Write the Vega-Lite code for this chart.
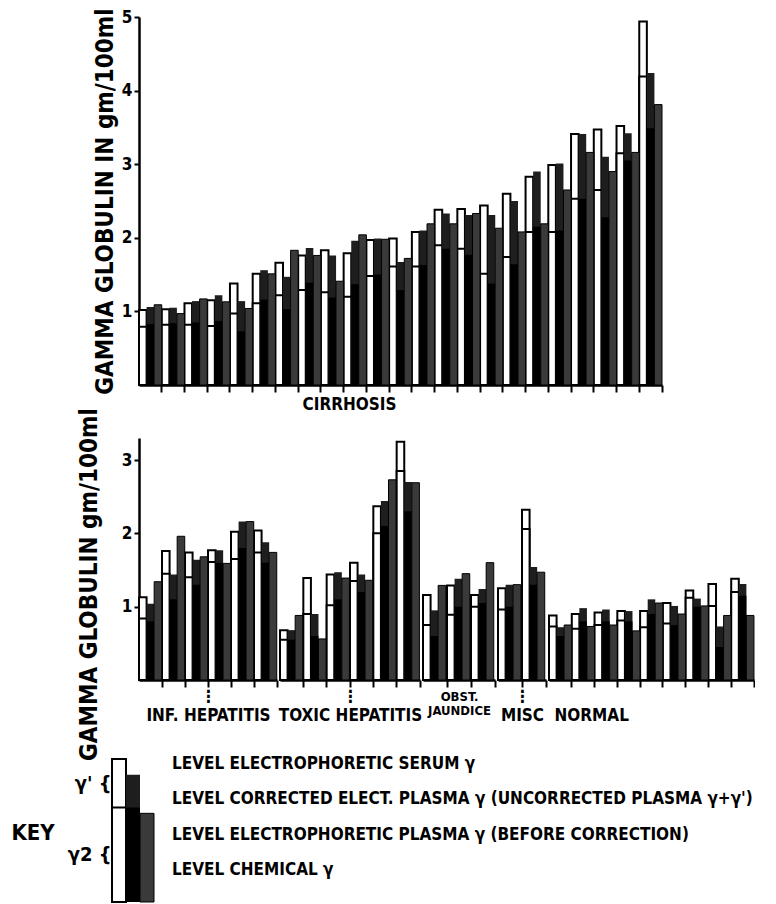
{
"$schema": "https://vega.github.io/schema/vega-lite/v6.json",
"padding": {"left": 10, "top": 7, "right": 0, "bottom": 0},
"background": "white",
"config": {
  "view": {"stroke": null},
  "font": "DejaVu Sans Condensed, Liberation Sans Narrow, DejaVu Sans, sans-serif",
  "axis": {"domainColor": "black", "tickColor": "black", "labelColor": "black", "titleColor": "black", "grid": false,
           "labelFont": "DejaVu Sans Condensed, Liberation Sans Narrow, DejaVu Sans, sans-serif",
           "titleFont": "DejaVu Sans Condensed, Liberation Sans Narrow, DejaVu Sans, sans-serif",
           "labelFontWeight": "bold", "titleFontWeight": "bold"}
},
"datasets": {
  "cirr": [
    {"pt":1,"bar":"serum","total":1.02,"inner":0.79},{"pt":1,"bar":"plasma","total":1.06,"inner":0.83},{"pt":1,"bar":"chemical","total":1.09},
    {"pt":2,"bar":"serum","total":1.03,"inner":0.82},{"pt":2,"bar":"plasma","total":1.05,"inner":0.84},{"pt":2,"bar":"chemical","total":0.97},
    {"pt":3,"bar":"serum","total":1.11,"inner":0.82},{"pt":3,"bar":"plasma","total":1.14,"inner":0.85},{"pt":3,"bar":"chemical","total":1.17},
    {"pt":4,"bar":"serum","total":1.15,"inner":0.80},{"pt":4,"bar":"plasma","total":1.22,"inner":0.87},{"pt":4,"bar":"chemical","total":1.13},
    {"pt":5,"bar":"serum","total":1.38,"inner":0.97},{"pt":5,"bar":"plasma","total":1.14,"inner":0.73},{"pt":5,"bar":"chemical","total":1.04},
    {"pt":6,"bar":"serum","total":1.51,"inner":1.11},{"pt":6,"bar":"plasma","total":1.56,"inner":1.16},{"pt":6,"bar":"chemical","total":1.51},
    {"pt":7,"bar":"serum","total":1.66,"inner":1.22},{"pt":7,"bar":"plasma","total":1.47,"inner":1.03},{"pt":7,"bar":"chemical","total":1.83},
    {"pt":8,"bar":"serum","total":1.76,"inner":1.29},{"pt":8,"bar":"plasma","total":1.86,"inner":1.39},{"pt":8,"bar":"chemical","total":1.76},
    {"pt":9,"bar":"serum","total":1.83,"inner":1.26},{"pt":9,"bar":"plasma","total":1.76,"inner":1.19},{"pt":9,"bar":"chemical","total":1.41},
    {"pt":10,"bar":"serum","total":1.79,"inner":1.20},{"pt":10,"bar":"plasma","total":1.96,"inner":1.37},{"pt":10,"bar":"chemical","total":2.04},
    {"pt":11,"bar":"serum","total":1.97,"inner":1.48},{"pt":11,"bar":"plasma","total":1.99,"inner":1.50},{"pt":11,"bar":"chemical","total":1.98},
    {"pt":12,"bar":"serum","total":1.99,"inner":1.61},{"pt":12,"bar":"plasma","total":1.67,"inner":1.29},{"pt":12,"bar":"chemical","total":1.72},
    {"pt":13,"bar":"serum","total":2.08,"inner":1.61},{"pt":13,"bar":"plasma","total":2.10,"inner":1.63},{"pt":13,"bar":"chemical","total":2.19},
    {"pt":14,"bar":"serum","total":2.38,"inner":1.90},{"pt":14,"bar":"plasma","total":2.33,"inner":1.85},{"pt":14,"bar":"chemical","total":2.19},
    {"pt":15,"bar":"serum","total":2.39,"inner":1.85},{"pt":15,"bar":"plasma","total":2.31,"inner":1.77},{"pt":15,"bar":"chemical","total":2.33},
    {"pt":16,"bar":"serum","total":2.44,"inner":1.51},{"pt":16,"bar":"plasma","total":2.31,"inner":1.38},{"pt":16,"bar":"chemical","total":2.13},
    {"pt":17,"bar":"serum","total":2.60,"inner":1.74},{"pt":17,"bar":"plasma","total":2.50,"inner":1.64},{"pt":17,"bar":"chemical","total":2.08},
    {"pt":18,"bar":"serum","total":2.83,"inner":2.08},{"pt":18,"bar":"plasma","total":2.90,"inner":2.15},{"pt":18,"bar":"chemical","total":2.19},
    {"pt":19,"bar":"serum","total":2.99,"inner":2.08},{"pt":19,"bar":"plasma","total":3.01,"inner":2.10},{"pt":19,"bar":"chemical","total":2.65},
    {"pt":20,"bar":"serum","total":3.41,"inner":2.53},{"pt":20,"bar":"plasma","total":3.41,"inner":2.53},{"pt":20,"bar":"chemical","total":3.16},
    {"pt":21,"bar":"serum","total":3.47,"inner":2.65},{"pt":21,"bar":"plasma","total":3.10,"inner":2.28},{"pt":21,"bar":"chemical","total":2.90},
    {"pt":22,"bar":"serum","total":3.52,"inner":3.15},{"pt":22,"bar":"plasma","total":3.42,"inner":3.05},{"pt":22,"bar":"chemical","total":3.16},
    {"pt":23,"bar":"serum","total":4.94,"inner":4.19},{"pt":23,"bar":"plasma","total":4.24,"inner":3.49},{"pt":23,"bar":"chemical","total":3.81}
  ],
  "other": [
    {"grp":"INF","pt":1,"bar":"serum","total":1.13,"inner":0.84},{"grp":"INF","pt":1,"bar":"plasma","total":1.04,"inner":0.80},{"grp":"INF","pt":1,"bar":"chemical","total":1.34},
    {"grp":"INF","pt":2,"bar":"serum","total":1.76,"inner":1.45},{"grp":"INF","pt":2,"bar":"plasma","total":1.44,"inner":1.10},{"grp":"INF","pt":2,"bar":"chemical","total":1.96},
    {"grp":"INF","pt":3,"bar":"serum","total":1.74,"inner":1.40},{"grp":"INF","pt":3,"bar":"plasma","total":1.64,"inner":1.30},{"grp":"INF","pt":3,"bar":"chemical","total":1.68},
    {"grp":"INF","pt":4,"bar":"serum","total":1.77,"inner":1.61},{"grp":"INF","pt":4,"bar":"plasma","total":1.77,"inner":1.60},{"grp":"INF","pt":4,"bar":"chemical","total":1.59},
    {"grp":"INF","pt":5,"bar":"serum","total":2.02,"inner":1.65},{"grp":"INF","pt":5,"bar":"plasma","total":2.16,"inner":1.80},{"grp":"INF","pt":5,"bar":"chemical","total":2.16},
    {"grp":"INF","pt":6,"bar":"serum","total":2.04,"inner":1.74},{"grp":"INF","pt":6,"bar":"plasma","total":1.88,"inner":1.60},{"grp":"INF","pt":6,"bar":"chemical","total":1.74},
    {"grp":"TOX","pt":1,"bar":"serum","total":0.68,"inner":0.55},{"grp":"TOX","pt":1,"bar":"plasma","total":0.68,"inner":0.55},{"grp":"TOX","pt":1,"bar":"chemical","total":0.88},
    {"grp":"TOX","pt":2,"bar":"serum","total":1.39,"inner":0.90},{"grp":"TOX","pt":2,"bar":"plasma","total":0.90,"inner":0.60},{"grp":"TOX","pt":2,"bar":"chemical","total":0.56},
    {"grp":"TOX","pt":3,"bar":"serum","total":1.44,"inner":1.02},{"grp":"TOX","pt":3,"bar":"plasma","total":1.47,"inner":1.10},{"grp":"TOX","pt":3,"bar":"chemical","total":1.39},
    {"grp":"TOX","pt":4,"bar":"serum","total":1.60,"inner":1.35},{"grp":"TOX","pt":4,"bar":"plasma","total":1.44,"inner":1.20},{"grp":"TOX","pt":4,"bar":"chemical","total":1.36},
    {"grp":"TOX","pt":5,"bar":"serum","total":2.37,"inner":2.00},{"grp":"TOX","pt":5,"bar":"plasma","total":2.44,"inner":2.10},{"grp":"TOX","pt":5,"bar":"chemical","total":2.73},
    {"grp":"TOX","pt":6,"bar":"serum","total":3.25,"inner":2.85},{"grp":"TOX","pt":6,"bar":"plasma","total":2.70,"inner":2.30},{"grp":"TOX","pt":6,"bar":"chemical","total":2.69},
    {"grp":"OBST","pt":1,"bar":"serum","total":1.16,"inner":0.75},{"grp":"OBST","pt":1,"bar":"plasma","total":0.95,"inner":0.60},{"grp":"OBST","pt":1,"bar":"chemical","total":1.29},
    {"grp":"OBST","pt":2,"bar":"serum","total":1.29,"inner":0.89},{"grp":"OBST","pt":2,"bar":"plasma","total":1.38,"inner":1.00},{"grp":"OBST","pt":2,"bar":"chemical","total":1.45},
    {"grp":"OBST","pt":3,"bar":"serum","total":1.16,"inner":1.00},{"grp":"OBST","pt":3,"bar":"plasma","total":1.24,"inner":1.05},{"grp":"OBST","pt":3,"bar":"chemical","total":1.60},
    {"grp":"MISC","pt":1,"bar":"serum","total":1.25,"inner":0.96},{"grp":"MISC","pt":1,"bar":"plasma","total":1.30,"inner":1.00},{"grp":"MISC","pt":1,"bar":"chemical","total":1.30},
    {"grp":"MISC","pt":2,"bar":"serum","total":2.32,"inner":2.06},{"grp":"MISC","pt":2,"bar":"plasma","total":1.54,"inner":1.30},{"grp":"MISC","pt":2,"bar":"chemical","total":1.47},
    {"grp":"NORM","pt":1,"bar":"serum","total":0.88,"inner":0.73},{"grp":"NORM","pt":1,"bar":"plasma","total":0.72,"inner":0.60},{"grp":"NORM","pt":1,"bar":"chemical","total":0.75},
    {"grp":"NORM","pt":2,"bar":"serum","total":0.90,"inner":0.70},{"grp":"NORM","pt":2,"bar":"plasma","total":0.98,"inner":0.80},{"grp":"NORM","pt":2,"bar":"chemical","total":0.73},
    {"grp":"NORM","pt":3,"bar":"serum","total":0.92,"inner":0.75},{"grp":"NORM","pt":3,"bar":"plasma","total":0.96,"inner":0.80},{"grp":"NORM","pt":3,"bar":"chemical","total":0.75},
    {"grp":"NORM","pt":4,"bar":"serum","total":0.94,"inner":0.81},{"grp":"NORM","pt":4,"bar":"plasma","total":0.94,"inner":0.80},{"grp":"NORM","pt":4,"bar":"chemical","total":0.67},
    {"grp":"NORM","pt":5,"bar":"serum","total":0.94,"inner":0.72},{"grp":"NORM","pt":5,"bar":"plasma","total":1.10,"inner":0.90},{"grp":"NORM","pt":5,"bar":"chemical","total":1.05},
    {"grp":"NORM","pt":6,"bar":"serum","total":1.05,"inner":0.77},{"grp":"NORM","pt":6,"bar":"plasma","total":1.01,"inner":0.75},{"grp":"NORM","pt":6,"bar":"chemical","total":0.90},
    {"grp":"NORM","pt":7,"bar":"serum","total":1.22,"inner":1.12},{"grp":"NORM","pt":7,"bar":"plasma","total":1.11,"inner":1.00},{"grp":"NORM","pt":7,"bar":"chemical","total":1.01},
    {"grp":"NORM","pt":8,"bar":"serum","total":1.31,"inner":1.01},{"grp":"NORM","pt":8,"bar":"plasma","total":0.73,"inner":0.45},{"grp":"NORM","pt":8,"bar":"chemical","total":0.88},
    {"grp":"NORM","pt":9,"bar":"serum","total":1.38,"inner":1.20},{"grp":"NORM","pt":9,"bar":"plasma","total":1.31,"inner":1.15},{"grp":"NORM","pt":9,"bar":"chemical","total":0.88}
  ],
  "keybars": [
    {"bar":"serum","total":1.0,"inner":0.66},{"bar":"plasma","total":0.89,"inner":0.66},{"bar":"chemical","total":0.62}
  ],
  "keylabels": [
    {"order":1,"label":"LEVEL ELECTROPHORETIC SERUM γ"},
    {"order":2,"label":"LEVEL CORRECTED ELECT. PLASMA γ (UNCORRECTED PLASMA γ+γ')"},
    {"order":3,"label":"LEVEL ELECTROPHORETIC PLASMA γ (BEFORE CORRECTION)"},
    {"order":4,"label":"LEVEL CHEMICAL γ"}
  ]
},
"bounds": "flush",
"spacing": 53,
"vconcat": [
  {
    "width": 523, "height": 368,
    "data": {"name": "cirr"},
    "encoding": {
      "x": {"field": "pt", "type": "ordinal", "scale": {"paddingInner": 0, "paddingOuter": 0},
            "axis": {"title": "CIRRHOSIS", "labels": false, "bandPosition": 1, "tickSize": 7, "tickWidth": 2, "domainWidth": 2.5, "titleX": 210, "titleFontSize": 17, "titlePadding": 3}},
      "xOffset": {"field": "bar", "type": "nominal", "scale": {"domain": ["serum", "plasma", "chemical"], "paddingInner": 0, "paddingOuter": 0}}
    },
    "layer": [
      {"transform": [{"filter": "datum.bar == 'serum'"}], "mark": {"type": "bar", "fill": "white", "stroke": "black", "strokeWidth": 2},
       "encoding": {"y": {"field": "total", "type": "quantitative", "scale": {"domain": [0, 5], "nice": false},
         "axis": {"values": [1, 2, 3, 4, 5], "format": "d", "title": "GAMMA GLOBULIN IN gm/100ml", "titleFontSize": 24, "titlePadding": 4, "labelFontSize": 17, "labelPadding": 2, "tickSize": 5, "tickWidth": 2, "domainWidth": 2.5}}}},
      {"transform": [{"filter": "datum.bar == 'serum'"}], "mark": {"type": "bar", "fill": "white", "stroke": "black", "strokeWidth": 2},
       "encoding": {"y": {"field": "inner", "type": "quantitative", "scale": {"domain": [0, 5], "nice": false}}}},
      {"transform": [{"filter": "datum.bar == 'plasma'"}], "mark": {"type": "bar", "fill": "#1e1e1e"},
       "encoding": {"y": {"field": "total", "type": "quantitative", "scale": {"domain": [0, 5], "nice": false}}}},
      {"transform": [{"filter": "datum.bar == 'plasma'"}], "mark": {"type": "bar", "fill": "black"},
       "encoding": {"y": {"field": "inner", "type": "quantitative", "scale": {"domain": [0, 5], "nice": false}}}},
      {"transform": [{"filter": "datum.bar == 'chemical'"}], "mark": {"type": "bar", "fill": "#3a3a3a", "stroke": "black", "strokeWidth": 1},
       "encoding": {"y": {"field": "total", "type": "quantitative", "scale": {"domain": [0, 5], "nice": false}}}}
    ]
  },
  {
    "bounds": "flush",
    "spacing": 3,
    "hconcat": [
      {
        "width": 138, "height": 242,
        "data": {"name": "other"},
        "transform": [{"filter": "datum.grp == 'INF'"}],
        "encoding": {
          "x": {"field": "pt", "type": "ordinal", "scale": {"paddingInner": 0, "paddingOuter": 0},
                "axis": {"title": ["⋮", "INF. HEPATITIS"], "titleLineHeight": 19, "labels": false, "bandPosition": 1, "tickSize": 7, "tickWidth": 2, "domainWidth": 2.5, "titleFontSize": 17, "titlePadding": 0}},
          "xOffset": {"field": "bar", "type": "nominal", "scale": {"domain": ["serum", "plasma", "chemical"], "paddingInner": 0, "paddingOuter": 0}}
        },
        "layer": [
          {"transform": [{"filter": "datum.bar == 'serum'"}], "mark": {"type": "bar", "fill": "white", "stroke": "black", "strokeWidth": 2},
           "encoding": {"y": {"field": "total", "type": "quantitative", "scale": {"domain": [0, 3.3], "nice": false},
             "axis": {"values": [1, 2, 3], "format": "d", "title": "GAMMA GLOBULIN gm/100ml", "titleFontSize": 24, "titlePadding": 20, "titleY": 146, "labelFontSize": 17, "labelPadding": 2, "tickSize": 5, "tickWidth": 2, "domainWidth": 2.5}}}},
          {"transform": [{"filter": "datum.bar == 'serum'"}], "mark": {"type": "bar", "fill": "white", "stroke": "black", "strokeWidth": 2},
           "encoding": {"y": {"field": "inner", "type": "quantitative", "scale": {"domain": [0, 3.3], "nice": false}}}},
          {"transform": [{"filter": "datum.bar == 'plasma'"}], "mark": {"type": "bar", "fill": "#1e1e1e"},
           "encoding": {"y": {"field": "total", "type": "quantitative", "scale": {"domain": [0, 3.3], "nice": false}}}},
          {"transform": [{"filter": "datum.bar == 'plasma'"}], "mark": {"type": "bar", "fill": "black"},
           "encoding": {"y": {"field": "inner", "type": "quantitative", "scale": {"domain": [0, 3.3], "nice": false}}}},
          {"transform": [{"filter": "datum.bar == 'chemical'"}], "mark": {"type": "bar", "fill": "#3a3a3a", "stroke": "black", "strokeWidth": 1},
           "encoding": {"y": {"field": "total", "type": "quantitative", "scale": {"domain": [0, 3.3], "nice": false}}}}
        ]
      },
      {
        "width": 140, "height": 242,
        "data": {"name": "other"},
        "transform": [{"filter": "datum.grp == 'TOX'"}],
        "encoding": {
          "x": {"field": "pt", "type": "ordinal", "scale": {"paddingInner": 0, "paddingOuter": 0},
                "axis": {"title": ["⋮", "TOXIC HEPATITIS"], "titleLineHeight": 19, "labels": false, "bandPosition": 1, "tickSize": 7, "tickWidth": 2, "domainWidth": 2.5, "titleFontSize": 17, "titlePadding": 0}},
          "xOffset": {"field": "bar", "type": "nominal", "scale": {"domain": ["serum", "plasma", "chemical"], "paddingInner": 0, "paddingOuter": 0}}
        },
        "layer": [
          {"transform": [{"filter": "datum.bar == 'serum'"}], "mark": {"type": "bar", "fill": "white", "stroke": "black", "strokeWidth": 2},
           "encoding": {"y": {"field": "total", "type": "quantitative", "scale": {"domain": [0, 3.3], "nice": false}, "axis": null}}},
          {"transform": [{"filter": "datum.bar == 'serum'"}], "mark": {"type": "bar", "fill": "white", "stroke": "black", "strokeWidth": 2},
           "encoding": {"y": {"field": "inner", "type": "quantitative", "scale": {"domain": [0, 3.3], "nice": false}, "axis": null}}},
          {"transform": [{"filter": "datum.bar == 'plasma'"}], "mark": {"type": "bar", "fill": "#1e1e1e"},
           "encoding": {"y": {"field": "total", "type": "quantitative", "scale": {"domain": [0, 3.3], "nice": false}, "axis": null}}},
          {"transform": [{"filter": "datum.bar == 'plasma'"}], "mark": {"type": "bar", "fill": "black"},
           "encoding": {"y": {"field": "inner", "type": "quantitative", "scale": {"domain": [0, 3.3], "nice": false}, "axis": null}}},
          {"transform": [{"filter": "datum.bar == 'chemical'"}], "mark": {"type": "bar", "fill": "#3a3a3a", "stroke": "black", "strokeWidth": 1},
           "encoding": {"y": {"field": "total", "type": "quantitative", "scale": {"domain": [0, 3.3], "nice": false}, "axis": null}}}
        ]
      },
      {
        "width": 72, "height": 242,
        "data": {"name": "other"},
        "transform": [{"filter": "datum.grp == 'OBST'"}],
        "encoding": {
          "x": {"field": "pt", "type": "ordinal", "scale": {"paddingInner": 0, "paddingOuter": 0},
                "axis": {"title": ["OBST.", "JAUNDICE"], "labels": false, "bandPosition": 1, "tickSize": 7, "tickWidth": 2, "domainWidth": 2.5, "titleFontSize": 13, "titleLineHeight": 14, "titlePadding": 2}},
          "xOffset": {"field": "bar", "type": "nominal", "scale": {"domain": ["serum", "plasma", "chemical"], "paddingInner": 0, "paddingOuter": 0}}
        },
        "layer": [
          {"transform": [{"filter": "datum.bar == 'serum'"}], "mark": {"type": "bar", "fill": "white", "stroke": "black", "strokeWidth": 2},
           "encoding": {"y": {"field": "total", "type": "quantitative", "scale": {"domain": [0, 3.3], "nice": false}, "axis": null}}},
          {"transform": [{"filter": "datum.bar == 'serum'"}], "mark": {"type": "bar", "fill": "white", "stroke": "black", "strokeWidth": 2},
           "encoding": {"y": {"field": "inner", "type": "quantitative", "scale": {"domain": [0, 3.3], "nice": false}, "axis": null}}},
          {"transform": [{"filter": "datum.bar == 'plasma'"}], "mark": {"type": "bar", "fill": "#1e1e1e"},
           "encoding": {"y": {"field": "total", "type": "quantitative", "scale": {"domain": [0, 3.3], "nice": false}, "axis": null}}},
          {"transform": [{"filter": "datum.bar == 'plasma'"}], "mark": {"type": "bar", "fill": "black"},
           "encoding": {"y": {"field": "inner", "type": "quantitative", "scale": {"domain": [0, 3.3], "nice": false}, "axis": null}}},
          {"transform": [{"filter": "datum.bar == 'chemical'"}], "mark": {"type": "bar", "fill": "#3a3a3a", "stroke": "black", "strokeWidth": 1},
           "encoding": {"y": {"field": "total", "type": "quantitative", "scale": {"domain": [0, 3.3], "nice": false}, "axis": null}}}
        ]
      },
      {
        "width": 48, "height": 242,
        "data": {"name": "other"},
        "transform": [{"filter": "datum.grp == 'MISC'"}],
        "encoding": {
          "x": {"field": "pt", "type": "ordinal", "scale": {"paddingInner": 0, "paddingOuter": 0},
                "axis": {"title": ["⋮", "MISC"], "titleLineHeight": 19, "labels": false, "bandPosition": 1, "tickSize": 7, "tickWidth": 2, "domainWidth": 2.5, "titleFontSize": 17, "titlePadding": 0}},
          "xOffset": {"field": "bar", "type": "nominal", "scale": {"domain": ["serum", "plasma", "chemical"], "paddingInner": 0, "paddingOuter": 0}}
        },
        "layer": [
          {"transform": [{"filter": "datum.bar == 'serum'"}], "mark": {"type": "bar", "fill": "white", "stroke": "black", "strokeWidth": 2},
           "encoding": {"y": {"field": "total", "type": "quantitative", "scale": {"domain": [0, 3.3], "nice": false}, "axis": null}}},
          {"transform": [{"filter": "datum.bar == 'serum'"}], "mark": {"type": "bar", "fill": "white", "stroke": "black", "strokeWidth": 2},
           "encoding": {"y": {"field": "inner", "type": "quantitative", "scale": {"domain": [0, 3.3], "nice": false}, "axis": null}}},
          {"transform": [{"filter": "datum.bar == 'plasma'"}], "mark": {"type": "bar", "fill": "#1e1e1e"},
           "encoding": {"y": {"field": "total", "type": "quantitative", "scale": {"domain": [0, 3.3], "nice": false}, "axis": null}}},
          {"transform": [{"filter": "datum.bar == 'plasma'"}], "mark": {"type": "bar", "fill": "black"},
           "encoding": {"y": {"field": "inner", "type": "quantitative", "scale": {"domain": [0, 3.3], "nice": false}, "axis": null}}},
          {"transform": [{"filter": "datum.bar == 'chemical'"}], "mark": {"type": "bar", "fill": "#3a3a3a", "stroke": "black", "strokeWidth": 1},
           "encoding": {"y": {"field": "total", "type": "quantitative", "scale": {"domain": [0, 3.3], "nice": false}, "axis": null}}}
        ]
      },
      {
        "width": 205, "height": 242,
        "data": {"name": "other"},
        "transform": [{"filter": "datum.grp == 'NORM'"}],
        "encoding": {
          "x": {"field": "pt", "type": "ordinal", "scale": {"paddingInner": 0, "paddingOuter": 0},
                "axis": {"title": "NORMAL", "labels": false, "bandPosition": 1, "tickSize": 7, "tickWidth": 2, "domainWidth": 2.5, "titleFontSize": 17, "titlePadding": 19, "titleAnchor": "start", "titleX": 5}},
          "xOffset": {"field": "bar", "type": "nominal", "scale": {"domain": ["serum", "plasma", "chemical"], "paddingInner": 0, "paddingOuter": 0}}
        },
        "layer": [
          {"transform": [{"filter": "datum.bar == 'serum'"}], "mark": {"type": "bar", "fill": "white", "stroke": "black", "strokeWidth": 2},
           "encoding": {"y": {"field": "total", "type": "quantitative", "scale": {"domain": [0, 3.3], "nice": false}, "axis": null}}},
          {"transform": [{"filter": "datum.bar == 'serum'"}], "mark": {"type": "bar", "fill": "white", "stroke": "black", "strokeWidth": 2},
           "encoding": {"y": {"field": "inner", "type": "quantitative", "scale": {"domain": [0, 3.3], "nice": false}, "axis": null}}},
          {"transform": [{"filter": "datum.bar == 'plasma'"}], "mark": {"type": "bar", "fill": "#1e1e1e"},
           "encoding": {"y": {"field": "total", "type": "quantitative", "scale": {"domain": [0, 3.3], "nice": false}, "axis": null}}},
          {"transform": [{"filter": "datum.bar == 'plasma'"}], "mark": {"type": "bar", "fill": "black"},
           "encoding": {"y": {"field": "inner", "type": "quantitative", "scale": {"domain": [0, 3.3], "nice": false}, "axis": null}}},
          {"transform": [{"filter": "datum.bar == 'chemical'"}], "mark": {"type": "bar", "fill": "#3a3a3a", "stroke": "black", "strokeWidth": 1},
           "encoding": {"y": {"field": "total", "type": "quantitative", "scale": {"domain": [0, 3.3], "nice": false}, "axis": null}}}
        ]
      }
    ]
  },
  {
    "width": 28, "height": 411,
    "layer": [
      {
        "data": {"name": "keybars"},
        "encoding": {
          "x": {"field": "bar", "type": "nominal", "scale": {"domain": ["serum", "plasma", "chemical"], "range": [-27, 15], "paddingInner": 0, "paddingOuter": 0}, "axis": null}
        },
        "layer": [
          {"transform": [{"filter": "datum.bar == 'serum'"}], "mark": {"type": "bar", "fill": "white", "stroke": "black", "strokeWidth": 2},
           "encoding": {"y": {"field": "total", "type": "quantitative", "scale": {"domain": [0, 2.874], "nice": false},
             "axis": {"values": [0.83, 0.33], "labelExpr": "datum.value > 0.5 ? \"γ' {\" : \"γ2 {\"", "offset": 28, "domain": false, "ticks": false, "labelFontSize": 20, "labelPadding": 0,
                      "title": "KEY", "titleAngle": 0, "titleAlign": "right", "titleBaseline": "middle", "titleFontSize": 22, "titlePadding": 13, "titleY": 341}}}},
          {"transform": [{"filter": "datum.bar == 'serum'"}], "mark": {"type": "bar", "fill": "white", "stroke": "black", "strokeWidth": 2},
           "encoding": {"y": {"field": "inner", "type": "quantitative", "scale": {"domain": [0, 2.874], "nice": false}}}},
          {"transform": [{"filter": "datum.bar == 'plasma'"}], "mark": {"type": "bar", "fill": "#1e1e1e"},
           "encoding": {"y": {"field": "total", "type": "quantitative", "scale": {"domain": [0, 2.874], "nice": false}}}},
          {"transform": [{"filter": "datum.bar == 'plasma'"}], "mark": {"type": "bar", "fill": "black"},
           "encoding": {"y": {"field": "inner", "type": "quantitative", "scale": {"domain": [0, 2.874], "nice": false}}}},
          {"transform": [{"filter": "datum.bar == 'chemical'"}], "mark": {"type": "bar", "fill": "#3a3a3a", "stroke": "black", "strokeWidth": 1},
           "encoding": {"y": {"field": "total", "type": "quantitative", "scale": {"domain": [0, 2.874], "nice": false}}}}
        ]
      },
      {
        "data": {"name": "keylabels"},
        "mark": {"type": "text", "align": "left", "baseline": "middle", "dx": 5, "fontSize": 17, "fontWeight": "bold", "font": "DejaVu Sans Condensed, Liberation Sans Narrow, DejaVu Sans, sans-serif"},
        "encoding": {
          "x": {"value": "width"},
          "y": {"field": "order", "type": "ordinal", "scale": {"range": [273, 379], "padding": 0}, "axis": null},
          "text": {"field": "label"}
        }
      }
    ],
    "resolve": {"scale": {"y": "independent"}}
  }
]
}
